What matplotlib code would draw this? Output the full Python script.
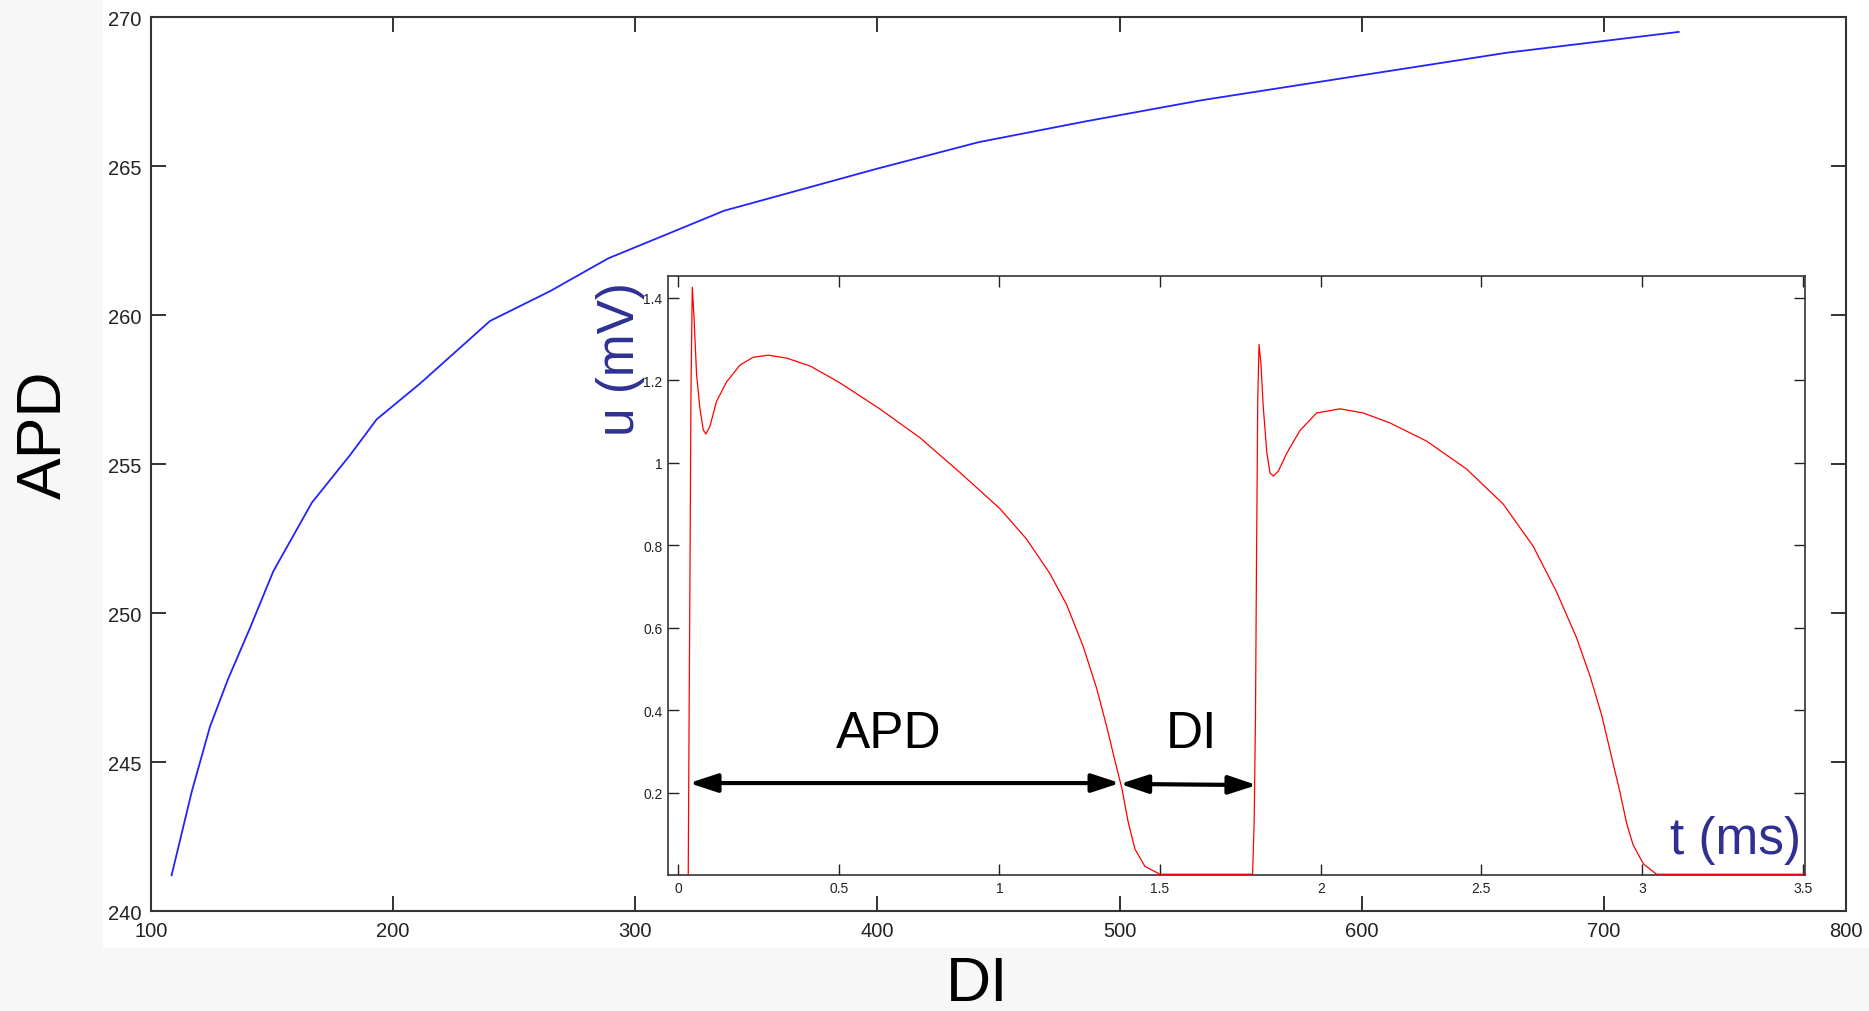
import numpy as np
import matplotlib
matplotlib.use("Agg")
import matplotlib.pyplot as plt
from matplotlib.patches import Rectangle

plt.rcParams['font.family'] = ['Liberation Sans', 'DejaVu Sans']

# restitution curve: APD as a function of DI
di_values = [108.5, 116.8, 124.4, 131.9, 140.9, 150.5, 166.4, 182.2, 193.2, 211.1, 240.0,
             264.8, 288.8, 336.7, 399.4, 441.8, 486.1, 533.3, 596.4, 659.8, 730.9]
apd_values = [241.2, 244.0, 246.2, 247.8, 249.5, 251.4, 253.7, 255.3, 256.5, 257.7, 259.8,
              260.8, 261.9, 263.5, 264.9, 265.8, 266.5, 267.2, 268.0, 268.8, 269.5]

# inset: two action potentials u(t)
t_values = [0.0, 0.032, 0.035, 0.0373, 0.0405, 0.0446, 0.050, 0.058, 0.0685, 0.0788,
            0.087, 0.0996, 0.120, 0.151, 0.193, 0.234, 0.281, 0.338, 0.411, 0.504,
            0.628, 0.753, 0.877, 1.002, 1.085, 1.157, 1.209, 1.261, 1.303, 1.334,
            1.360, 1.381, 1.401, 1.422, 1.453, 1.500,
            1.749, 1.788, 1.793, 1.797, 1.800, 1.804, 1.808, 1.814, 1.821, 1.832,
            1.842, 1.852, 1.868, 1.894, 1.935, 1.987, 2.060, 2.132, 2.215, 2.329,
            2.454, 2.568, 2.661, 2.734, 2.796, 2.838, 2.874, 2.905, 2.931, 2.952,
            2.972, 3.004, 3.045, 3.500]
u_values = [0.0, 0.0, 0.425, 0.713, 1.168, 1.426, 1.353, 1.214, 1.131, 1.080,
            1.070, 1.089, 1.149, 1.196, 1.237, 1.256, 1.261, 1.254, 1.235, 1.194,
            1.131, 1.061, 0.977, 0.889, 0.815, 0.732, 0.657, 0.555, 0.453, 0.361,
            0.277, 0.212, 0.129, 0.064, 0.022, 0.003,
            0.003, 0.003, 0.134, 0.389, 0.746, 1.155, 1.287, 1.240, 1.138, 1.027,
            0.976, 0.968, 0.980, 1.023, 1.078, 1.121, 1.131, 1.121, 1.097, 1.053,
            0.985, 0.900, 0.798, 0.687, 0.576, 0.483, 0.389, 0.287, 0.202, 0.126,
            0.074, 0.028, 0.003, 0.003]

# arrows marking APD and DI on the inset
apd_arrow = [(0.035, 0.224), (1.375, 0.224)]
di_arrow = [(1.375, 0.222), (1.801, 0.219)]

main_xticks = [100, 200, 300, 400, 500, 600, 700, 800]
main_yticks = [240, 245, 250, 255, 260, 265, 270]
inset_xticks = [0, 0.5, 1, 1.5, 2, 2.5, 3, 3.5]
inset_xlabels = ['0', '0.5', '1', '1.5', '2', '2.5', '3', '3.5']
inset_yticks = [0.2, 0.4, 0.6, 0.8, 1.0, 1.2, 1.4]
inset_ylabels = ['0.2', '0.4', '0.6', '0.8', '1', '1.2', '1.4']

navy = '#2e3192'

fig = plt.figure(figsize=(18.69, 10.12), dpi=100, facecolor='#f7f7f7')
fig.patches.append(Rectangle((0.055, 0.0623), 1.0, 1.0, transform=fig.transFigure,
                             facecolor='white', edgecolor='none', zorder=-10))

ax = fig.add_axes([0.0808, 0.0988, 0.9069, 0.8834])
ax.plot(di_values, apd_values, color='#2323ff', lw=1.3)
ax.set_xlim(100, 800)
ax.set_ylim(240, 270)
ax.set_xticks(main_xticks)
ax.set_yticks(main_yticks)
ax.tick_params(direction='in', length=11, width=1.3, top=True, right=True,
               labelsize=14.5, colors='#222222', pad=7)
for sp in ax.spines.values():
    sp.set_linewidth(1.5)
    sp.set_color('#333333')

fig.text(0.024, 0.570, 'APD', rotation=90, ha='center', va='center', fontsize=45)
fig.text(0.523, 0.027, 'DI', ha='center', va='center', fontsize=45)

ax_in = fig.add_axes([0.3574, 0.1339, 0.6084, 0.5924])
ax_in.plot(t_values, u_values, color='#ff0000', lw=0.9, zorder=3)
ax_in.set_xlim(-0.031, 3.507)
ax_in.set_ylim(0, 1.453)
ax_in.set_xticks(inset_xticks)
ax_in.set_xticklabels(inset_xlabels)
ax_in.set_yticks(inset_yticks)
ax_in.set_yticklabels(inset_ylabels)
ax_in.tick_params(direction='in', length=8, width=1.0, top=True, right=True,
                  labelsize=10, colors='#222222', pad=4)
for sp in ax_in.spines.values():
    sp.set_linewidth(1.2)
    sp.set_color('#333333')

for a, b in [apd_arrow, di_arrow]:
    ax_in.annotate('', xy=b, xytext=a,
                   arrowprops=dict(arrowstyle='<|-|>,head_length=0.85,head_width=0.28',
                                   mutation_scale=20, lw=3, color='black',
                                   shrinkA=0, shrinkB=0))

ax_in.text(0.657, 0.311, 'APD', ha='center', va='baseline', fontsize=37)
ax_in.text(1.597, 0.311, 'DI', ha='center', va='baseline', fontsize=37)
ax_in.text(3.493, 0.055, 't (ms)', ha='right', va='baseline', fontsize=37, color=navy)
ax_in.text(-0.18, 1.2545, 'u (mV)', rotation=90, ha='center', va='center',
           fontsize=37, color=navy, clip_on=False)

fig.savefig('out.png', dpi=100, facecolor=fig.get_facecolor())
